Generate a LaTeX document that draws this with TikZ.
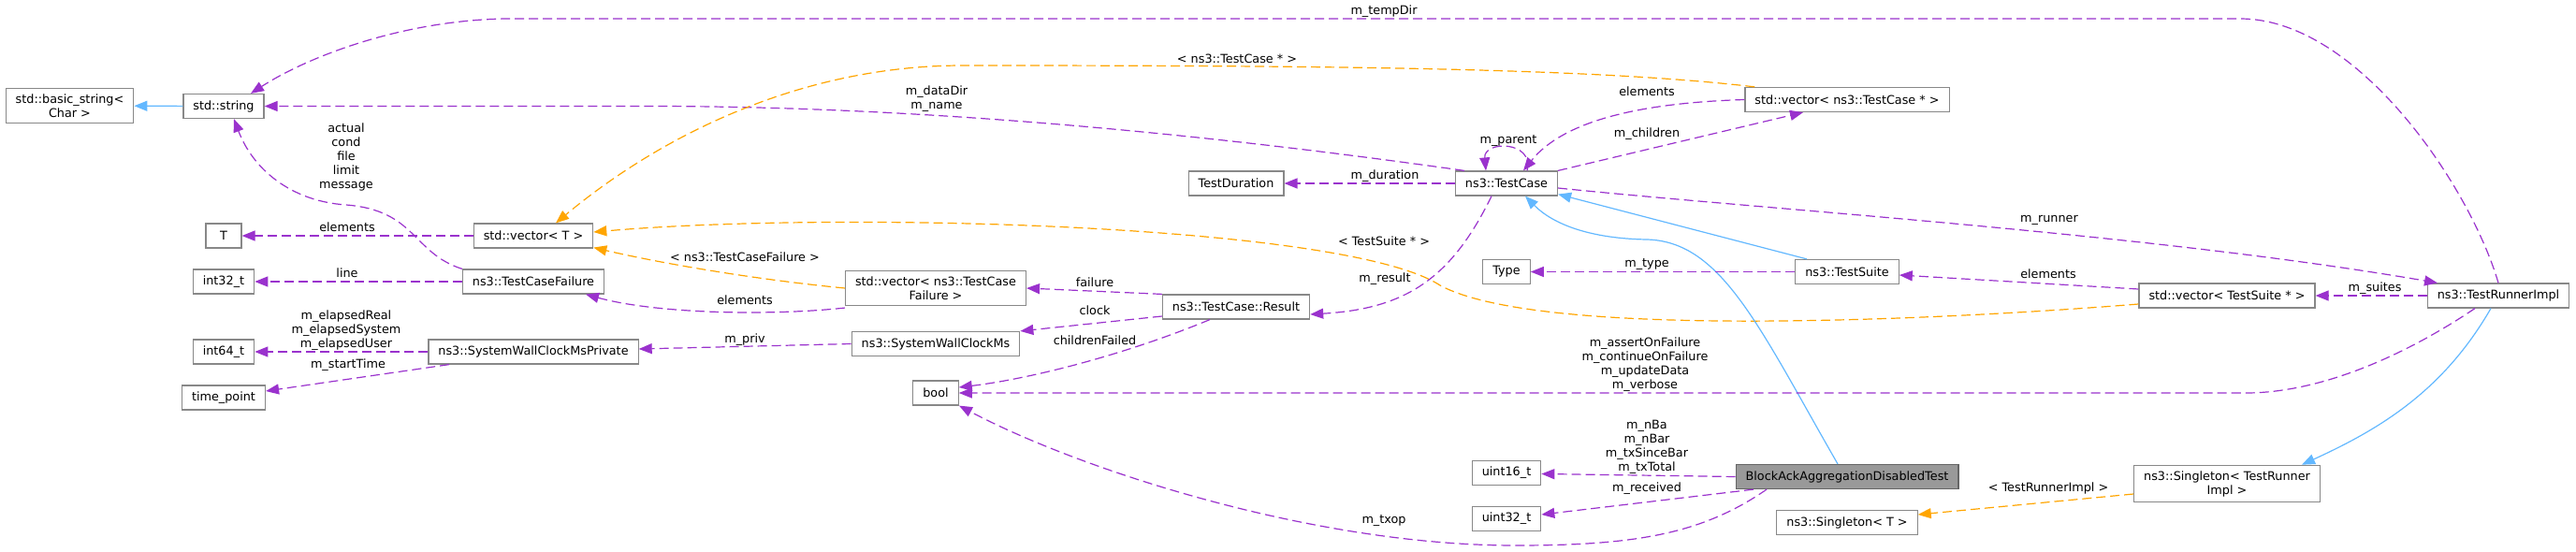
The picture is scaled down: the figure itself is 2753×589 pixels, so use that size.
\documentclass[tikz,border=0pt]{standalone}
\usepackage{fontspec}
\setmainfont{DejaVu Sans}
\usetikzlibrary{arrows.meta}
\definecolor{edgepurple}{HTML}{9A32CD}
\definecolor{edgeorange}{HTML}{FFA500}
\definecolor{edgeblue}{HTML}{63B8FF}
\definecolor{boxgray}{HTML}{888888}
\definecolor{focusgray}{HTML}{999999}
\definecolor{focusborder}{HTML}{666666}

\begin{document}
\begin{tikzpicture}[x=1pt,y=-1pt,
  font=\fontsize{12.8}{15}\selectfont,
  cls/.style={draw=boxgray,fill=white,line width=1.2pt,inner xsep=10.5pt,inner ysep=6pt,minimum height=26pt,align=center},
  focus/.style={cls,fill=focusgray,draw=focusborder},
  lbl/.style={inner sep=0pt,align=center},
  uses/.style={draw=edgepurple,line width=1.2pt,dash pattern=on 10pt off 5pt,-{Triangle[length=14pt,width=11pt]}},
  tmpl/.style={uses,draw=edgeorange},
  isa/.style={draw=edgeblue,line width=1.2pt,-{Triangle[length=14pt,width=11pt]}}]
\useasboundingbox (0,0) rectangle (2753,589);
\node[cls] (bstr) at (74.5,113) {std::basic\_string<\\Char >};
\node[cls] (str) at (239,113.5) {std::string};
\node[cls,minimum width=38pt] (tT) at (239,252) {T};
\node[cls] (vecT) at (570,252) {std::vector< T >};
\node[cls] (i32) at (239,301) {int32\_t};
\node[cls] (tcf) at (570,301) {ns3::TestCaseFailure};
\node[cls] (i64) at (239,376) {int64\_t};
\node[cls] (swcp) at (570,376) {ns3::SystemWallClockMsPrivate};
\node[cls] (tpt) at (239,425) {time\_point};
\node[cls] (vtcf) at (1000,308) {std::vector< ns3::TestCase\\Failure >};
\node[cls] (swc) at (1000,367.5) {ns3::SystemWallClockMs};
\node[cls] (boolT) at (1000,420) {bool};
\node[cls] (tdur) at (1321,196) {TestDuration};
\node[cls] (tcase) at (1610,196) {ns3::TestCase};
\node[cls] (res) at (1321,328) {ns3::TestCase::Result};
\node[cls] (typ) at (1610,290.5) {Type};
\node[cls] (vtc) at (1974,106.5) {std::vector< ns3::TestCase * >};
\node[cls] (tsuite) at (1974,290.5) {ns3::TestSuite};
\node[cls] (vts) at (2380,316) {std::vector< TestSuite * >};
\node[cls] (runner) at (2670,316) {ns3::TestRunnerImpl};
\node[cls] (sgr) at (2380,517) {ns3::Singleton< TestRunner\\Impl >};
\node[cls] (sgt) at (1974,558.5) {ns3::Singleton< T >};
\node[cls] (u16) at (1610,505.5) {uint16\_t};
\node[cls] (u32) at (1610,554.5) {uint32\_t};
\node[focus] (blk) at (1974,509.5) {BlockAckAggregationDisabledTest};

\draw[isa] (str) to (bstr);
\draw[uses] (runner.north) .. controls (2640,200) and (2520,20) .. (2394,20) -- (540,20) .. controls (430,22) and (330,60) .. ([xshift=29pt]str.north);
\draw[uses] ([xshift=-45pt]tcase.north) .. controls (1300,145) and (1000,114) .. (700,113.5) -- (str.east);
\draw[uses] (tcf.north west) .. controls (440,270) and (445,225) .. (370,219) .. controls (310,215) and (270,180) .. ([xshift=11pt]str.south);
\draw[uses] (vecT) to (tT);
\draw[tmpl] ([xshift=11pt]vtc.north west) .. controls (1700,72) and (1400,70) .. (1029,70) .. controls (850,70) and (700,150) .. ([xshift=24pt]vecT.north);
\draw[tmpl] (vtcf.west) .. controls (800,298) and (700,280) .. ([yshift=1pt]vecT.south east);
\draw[tmpl] ([yshift=-9pt]vts.west) .. controls (2100,340) and (1650,365) .. (1539,305) .. controls (1440,240) and (900,225) .. ([yshift=4pt]vecT.east);
\draw[uses] ([yshift=-2pt]vtcf.south west) .. controls (820,338) and (700,335) .. ([xshift=56pt]tcf.south);
\draw[uses] (tcf) to (i32);
\draw[uses] (swcp) to (i64);
\draw[uses] ([xshift=-90pt]swcp.south) to ([yshift=7pt]tpt.east);
\draw[uses] (swc.west) to ([yshift=3pt]swcp.east);
\draw[uses] (res.north west) to (vtcf.east);
\draw[uses] ([yshift=-10pt]res.west) to (swc.north east);
\draw[uses] ([xshift=-28pt]res.south) .. controls (1200,380) and (1100,405) .. ([yshift=6pt]boolT.east);
\draw[uses] (tcase) to (tdur);
\draw[uses] ([xshift=22pt]tcase.north) .. controls (1640,150) and (1585,150) .. ([xshift=-22pt]tcase.north);
\draw[uses] (vtc.west) .. controls (1750,110) and (1670,130) .. ([xshift=18pt]tcase.north);
\draw[uses] ([xshift=55pt]tcase.north) to ([xshift=-47pt]vtc.south);
\draw[uses] ([yshift=-5pt]tcase.east) .. controls (1900,225) and (2300,250) .. ([xshift=-65pt]runner.north);
\draw[uses] ([xshift=-16pt]tcase.south) .. controls (1550,300) and (1500,330) .. ([yshift=-8pt]res.east);
\draw[isa] ([xshift=-43pt]tsuite.north) to ([yshift=2pt]tcase.south east);
\draw[isa] ([xshift=-10pt]blk.north) .. controls (1880,350) and (1840,258) .. (1760,256) .. controls (1700,255) and (1660,240) .. ([xshift=20pt]tcase.south);
\draw[uses] (tsuite) to (typ);
\draw[uses] ([yshift=7pt]vts.west) to ([yshift=-3.5pt]tsuite.east);
\draw[uses] (runner) to (vts);
\draw[uses] ([xshift=-25pt]runner.south) .. controls (2570,380) and (2480,420) .. (2400,420) -- (boolT.east);
\draw[isa] ([xshift=-8pt]runner.south) .. controls (2610,420) and (2540,460) .. ([xshift=80pt]sgr.north);
\draw[tmpl] ([yshift=-11pt]sgr.west) to ([yshift=8.5pt]sgt.east);
\draw[uses] (blk.west) to ([yshift=-1pt]u16.east);
\draw[uses] ([xshift=-100pt]blk.south) to ([yshift=4.5pt]u32.east);
\draw[uses] ([xshift=-86pt]blk.south) .. controls (1820,570) and (1750,583) .. (1620,583) .. controls (1400,583) and (1150,500) .. ([xshift=25pt]boolT.south);

\node[lbl] at (1479,12) {m\_tempDir};
\node[lbl] at (1322,63) {< ns3::TestCase * >};
\node[lbl] at (1001,105.5) {m\_dataDir\\m\_name};
\node[lbl] at (370,167.5) {actual\\cond\\file\\limit\\message};
\node[lbl] at (371,243) {elements};
\node[lbl] at (371,292) {line};
\node[lbl] at (370,353) {m\_elapsedReal\\m\_elapsedSystem\\m\_elapsedUser};
\node[lbl] at (372,390) {m\_startTime};
\node[lbl] at (796,275) {< ns3::TestCaseFailure >};
\node[lbl] at (796,321) {elements};
\node[lbl] at (796,363) {m\_priv};
\node[lbl] at (1170,302) {failure};
\node[lbl] at (1170,332) {clock};
\node[lbl] at (1170,364) {childrenFailed};
\node[lbl] at (1480,188) {m\_duration};
\node[lbl] at (1479,258) {< TestSuite * >};
\node[lbl] at (1480,298) {m\_result};
\node[lbl] at (1612,151) {m\_parent};
\node[lbl] at (1760,98) {elements};
\node[lbl] at (1760,143) {m\_children};
\node[lbl] at (1760,283) {m\_type};
\node[lbl] at (1758,389.5) {m\_assertOnFailure\\m\_continueOnFailure\\m\_updateData\\m\_verbose};
\node[lbl] at (1760,478) {m\_nBa\\m\_nBar\\m\_txSinceBar\\m\_txTotal};
\node[lbl] at (1760,522) {m\_received};
\node[lbl] at (1479,557) {m\_txop};
\node[lbl] at (2190,235) {m\_runner};
\node[lbl] at (2189,293) {elements};
\node[lbl] at (2538,308) {m\_suites};
\node[lbl] at (2189,522) {< TestRunnerImpl >};
\end{tikzpicture}
\end{document}
